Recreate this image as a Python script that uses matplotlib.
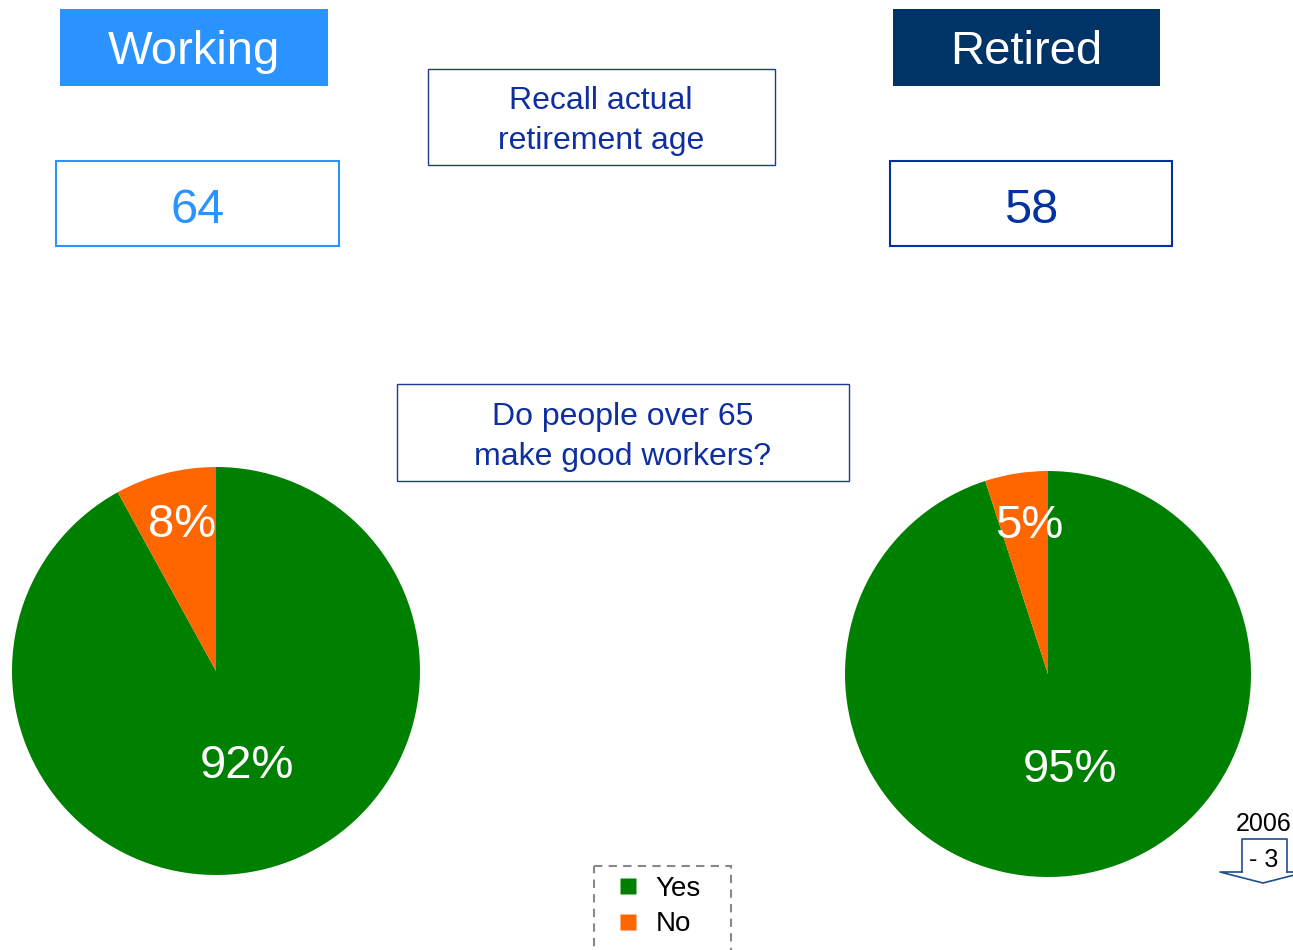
import numpy as np
import matplotlib
matplotlib.use("Agg")
import matplotlib.pyplot as plt
from matplotlib.patches import Rectangle
from matplotlib.lines import Line2D

## Data
groups = ["Working", "Retired"]
recall_age = [64, 58]
answer_labels = ["Yes", "No"]
answer_share = [[92, 8], [95, 5]]
note_year = "2006"
note_change = "- 3"

## Styles
plt.rcParams['font.family'] = ['Liberation Sans', 'DejaVu Sans']
group_fill = ["#2A93FF", "#003366"]
age_colors = ["#2A93FF", "#0033A0"]
pie_colors = ["#008000", "#FF6600"]
navy_text = "#0F2FA0"

W, H = 1293, 950
fig = plt.figure(figsize=(W / 100, H / 100), dpi=100)

## Overlay axes in pixel coordinates for the boxes and texts
ax = fig.add_axes([0, 0, 1, 1])
ax.set_xlim(0, W)
ax.set_ylim(H, 0)
ax.axis('off')

head_boxes = [(60, 9, 268, 77), (893, 9, 267, 77)]
age_boxes = [(56, 161, 283, 85), (890, 161, 282, 85)]
for i in range(2):
    x, y, w, h = head_boxes[i]
    ax.add_patch(Rectangle((x, y), w, h, facecolor=group_fill[i], edgecolor='none'))
    ax.text(x + w / 2, y + h / 2 + 5, groups[i], color='white', fontsize=34,
            ha='center', va='center')
    x, y, w, h = age_boxes[i]
    ax.add_patch(Rectangle((x, y), w, h, facecolor='white', edgecolor=age_colors[i], linewidth=1.5))
    ax.text(x + w / 2, y + h / 2 + 7, str(recall_age[i]), color=age_colors[i], fontsize=35,
            ha='center', va='center')

## Question boxes
ax.add_patch(Rectangle((428, 69), 347, 96, facecolor='white', edgecolor='#1F3C88', linewidth=1))
ax.text(601, 121, "Recall actual\nretirement age", color=navy_text, fontsize=23,
        ha='center', va='center', linespacing=1.4)
ax.add_patch(Rectangle((397, 384), 452, 97, facecolor='white', edgecolor='#1F3C88', linewidth=1))
ax.text(623, 437, "Do people over 65\nmake good workers?", color=navy_text, fontsize=23,
        ha='center', va='center', linespacing=1.4)

## Pies
pie_boxes = [(216, 671, 204), (1048, 674, 203)]
for i in range(2):
    cx, cy, r = pie_boxes[i]
    pax = fig.add_axes([(cx - r) / W, (H - cy - r) / H, 2 * r / W, 2 * r / H])
    wedges, _ = pax.pie(answer_share[i], colors=pie_colors, startangle=90,
                        counterclock=False, wedgeprops=dict(linewidth=0))
    pax.set_xlim(-1, 1)
    pax.set_ylim(-1, 1)
    for j, wd in enumerate(wedges):
        mid = np.deg2rad((wd.theta1 + wd.theta2) / 2)
        big = answer_share[i][j] > 50
        dist = 0.46 if big else 0.76
        dx = 0.035 if big else 0.025
        pax.text(dist * np.cos(mid) + dx, dist * np.sin(mid) - 0.02, f"{answer_share[i][j]}%",
                 color='white', fontsize=34, ha='center', va='center')

## Legend (dashed frame drawn separately, runs off the bottom edge)
ax.add_patch(Rectangle((594, 866), 137, 100, facecolor='white', edgecolor='#888888',
                       linewidth=1.5, linestyle=(0, (4, 3)), clip_on=False))
handles = [Line2D([], [], marker='s', linestyle='none', markersize=11,
                  markerfacecolor=c, markeredgecolor='none') for c in pie_colors]
leg = fig.legend(handles, answer_labels, loc='upper left',
                 bbox_to_anchor=(600 / W, 1 - 870 / H), fontsize=20,
                 frameon=False, borderpad=0.2, labelspacing=0.35,
                 handletextpad=0.2, handlelength=1.6, borderaxespad=0)

## Corner note with down-arrow callout
ax.text(1264, 824, note_year, fontsize=18, ha='center', va='center', color='black')
ax.plot([1242, 1242, 1287, 1287], [872, 839, 839, 872], color='#1F4E8C', lw=1.2, clip_on=False)
ax.plot([1242, 1220, 1263, 1306, 1287], [872, 872, 883, 872, 872], color='#1F4E8C', lw=1.2,
        clip_on=False)
ax.text(1264, 860, note_change, fontsize=18, ha='center', va='center', color='black')

fig.savefig("out.png", dpi=100)
